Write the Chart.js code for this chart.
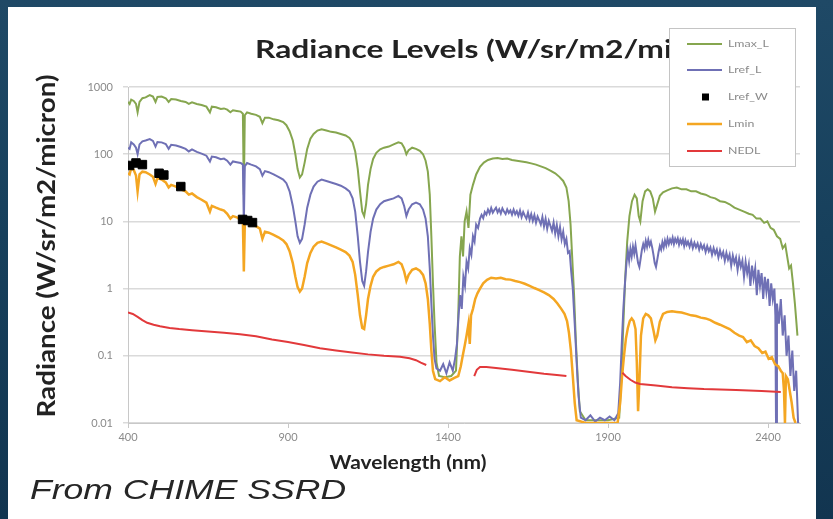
<!DOCTYPE html>
<html>
<head>
<meta charset="utf-8">
<script src="https://cdn.jsdelivr.net/npm/chart.js@4"></script>
<style>
html,body{margin:0;padding:0;width:833px;height:519px;overflow:hidden;}
body{background:linear-gradient(180deg,#1f4966 0%,#17405c 45%,#123550 100%);position:relative;}
#panel{position:absolute;left:8px;top:7px;width:808px;height:512px;background:#ffffff;}
#c{position:absolute;left:0;top:0;}
#caption{position:absolute;left:30px;top:476px;font:italic 28px "Liberation Sans",Arial,sans-serif;line-height:28px;color:#262626;transform-origin:0 0;transform:scaleX(1.27);white-space:nowrap;}
</style>
</head>
<body>
<div id="panel"></div>
<canvas id="c" width="833" height="519"></canvas>
<div id="caption">From CHIME SSRD</div>
<script>
// ---------- data (wavelength nm, radiance W/sr/m2/micron) ----------
const xTickValues = [400, 900, 1400, 1900, 2400];
const yTickValues = [0.01, 0.1, 1, 10, 100, 1000];
const yTickLabels = ['0.01', '0.1', '1', '10', '100', '1000'];

const lmaxL = [
[400,600],[405,560],[410,650],[418,620],[425,560],[430,420],[436,600],[445,680],[455,700],[468,760],[478,720],[486,600],[492,710],[505,720],[518,680],[527,600],[535,660],[550,650],[565,620],[580,600],[590,560],[600,590],[615,560],[630,540],[645,510],[656,420],[662,510],[675,500],[690,470],[700,480],[710,460],[720,420],[728,450],[740,440],[752,430],[759,400],[762,25],[765,380],[772,420],[785,400],[800,385],[812,360],[820,290],[828,350],[840,350],[855,330],[870,320],[885,300],[895,270],[905,220],[915,160],[923,100],[930,60],[937,45],[944,50],[952,75],[960,120],[970,170],[980,200],[992,225],[1005,235],[1020,225],[1035,215],[1050,210],[1065,200],[1080,190],[1092,175],[1102,150],[1110,110],[1118,60],[1125,28],[1132,14],[1138,12],[1144,18],[1150,35],[1158,60],[1166,85],[1176,105],[1188,118],[1200,125],[1215,130],[1230,140],[1245,150],[1255,145],[1263,125],[1270,100],[1277,115],[1288,125],[1300,120],[1312,112],[1322,100],[1330,80],[1337,55],[1343,25],[1348,6],[1353,1.2],[1358,0.3],[1364,0.08],[1372,0.05],[1390,0.048],[1410,0.05],[1425,0.06],[1432,0.4],[1437,3],[1442,6],[1447,3],[1452,10],[1458,14],[1464,8],[1470,25],[1478,35],[1488,50],[1500,65],[1512,75],[1525,82],[1540,86],[1555,88],[1570,85],[1585,86],[1600,82],[1615,80],[1630,78],[1645,76],[1660,73],[1675,70],[1690,66],[1705,62],[1720,57],[1735,52],[1748,46],[1760,40],[1770,32],[1777,20],[1783,9],[1788,3],[1794,0.8],[1800,0.15],[1806,0.04],[1812,0.015],[1830,0.011],[1900,0.011],[1935,0.012],[1942,0.05],[1948,0.3],[1954,1.5],[1960,5],[1967,12],[1975,20],[1983,25],[1990,22],[1996,12],[2001,10],[2008,20],[2016,28],[2024,30],[2032,28],[2040,22],[2047,14],[2054,18],[2062,24],[2072,27],[2085,29],[2100,31],[2115,32],[2130,30],[2145,30],[2160,28],[2175,28],[2190,26],[2205,25],[2220,23],[2235,22],[2250,20],[2265,19.5],[2280,18],[2295,16],[2310,15],[2325,14],[2340,13],[2352,12.5],[2364,11],[2376,11],[2388,9.5],[2398,10],[2408,8],[2418,7.5],[2428,6],[2438,5.5],[2446,4],[2454,4.5],[2460,3],[2466,2],[2472,2.2],[2478,1.2],[2484,0.6],[2488,0.35],[2492,0.2]
];

const lrefL = [
[400,125],[405,120],[410,150],[418,140],[425,125],[430,100],[436,140],[445,155],[455,160],[468,168],[478,158],[486,130],[492,152],[505,150],[518,142],[527,120],[535,138],[550,135],[565,128],[580,120],[590,110],[600,118],[615,108],[630,102],[645,95],[656,78],[662,92],[675,90],[690,84],[700,86],[710,80],[720,70],[728,78],[740,76],[752,74],[759,70],[762,9],[765,66],[772,74],[785,70],[800,66],[812,60],[820,48],[828,56],[840,54],[855,50],[870,46],[885,42],[895,37],[905,28],[915,17],[923,10],[930,6],[937,4.8],[944,5.5],[952,9],[960,16],[970,25],[980,33],[992,39],[1005,42],[1020,40],[1035,38],[1050,36],[1065,34],[1080,31],[1092,28],[1102,22],[1110,14],[1118,6],[1125,2.5],[1132,1.3],[1138,1.1],[1144,1.8],[1150,3.5],[1158,7],[1166,11],[1176,15],[1188,18],[1200,20],[1215,21],[1230,22],[1245,24],[1255,22],[1263,17],[1270,12],[1277,15],[1288,18],[1300,19],[1312,18],[1322,15],[1330,11],[1337,6],[1343,2],[1348,0.6],[1353,0.2],[1358,0.09],[1364,0.065],[1375,0.06],[1385,0.075],[1395,0.055],[1405,0.08],[1415,0.06],[1422,0.09],[1428,0.15],[1433,0.4],[1438,0.8],[1443,0.5],[1448,1.5],[1453,1.1],[1458,2.5],[1463,2],[1468,4],[1473,3.2],[1478,6],[1483,5],[1488,9],[1494,8],
[1500,11],[1505,12.5],[1510,11.2],[1515,13.8],[1520,12.6],[1525,15],[1530,13.2],[1535,15.8],[1540,13.5],[1545,14.8],[1550,16],[1555,13.6],[1560,15.2],[1565,13.1],[1570,15.6],[1575,14],[1580,12.9],[1585,15.1],[1590,13.4],[1595,14.6],[1600,12.6],[1605,15],[1610,12.8],[1615,14.2],[1620,12.1],[1625,14.5],[1630,11.6],[1635,13.8],[1640,12.2],[1645,11],[1650,13.5],[1655,10.6],[1660,12.8],[1665,10.2],[1670,12.4],[1675,9.6],[1680,11.8],[1685,10.4],[1690,9],[1695,11.6],[1700,8.4],[1705,10.9],[1710,7.8],[1715,10.2],[1720,8.6],[1725,7.2],[1730,9.6],[1735,6.6],[1740,8.8],[1745,6],[1750,8.2],[1755,5.4],[1760,7],[1765,4.6],[1770,5.5],[1775,3.4],[1780,3.6],[1785,1.8],[1790,1],[1796,0.3],[1802,0.08],[1808,0.025],[1815,0.012],[1830,0.011],[1845,0.013],[1860,0.0105],[1875,0.012],[1890,0.011],[1905,0.0125],[1920,0.011],[1932,0.014],[1938,0.04],[1943,0.15],[1948,0.5],[1953,1.2],
[1958,2.5],[1962,3.6],[1966,2.6],[1970,3.9],[1974,3],[1978,4.2],[1982,3.3],[1986,4.4],[1990,3.2],[1994,2.4],[1998,2.1],[2002,2.8],[2006,3.8],[2010,4.6],[2014,3.9],[2018,5.1],[2022,4.2],[2026,5.3],[2030,4.4],[2034,5],[2038,4.1],[2042,3.2],[2046,2.4],[2050,2.1],[2054,2.7],[2058,3.5],[2062,4.3],[2066,3.8],[2070,4.9],[2074,4.1],[2078,5.2],[2082,4.4],[2086,5.5],[2090,4.6],[2094,5.4],[2098,4.8],[2102,5.7],[2106,4.6],[2110,5.5],[2114,4.9],[2118,5.6],[2122,4.5],[2126,5.3],[2130,4.7],[2134,5.4],[2138,4.3],[2142,5.2],[2146,4.5],[2150,5],[2155,4.2],[2160,5.1],[2165,4],[2170,4.8],[2175,4.1],[2180,4.7],[2185,3.8],[2190,4.6],[2195,3.9],[2200,4.4],[2205,3.5],[2210,4.3],[2215,3.6],[2220,4.1],[2225,3.2],[2230,4],[2235,3.3],[2240,3.8],[2245,2.9],[2250,3.7],[2255,3],[2260,3.5],[2265,2.6],[2270,3.4],[2275,2.7],[2280,3.2],[2285,2.2],[2290,3.1],[2295,2.4],[2300,2.9],[2305,1.9],[2310,2.8],[2315,2.1],[2320,2.6],[2325,1.5],[2330,2.5],[2335,1.7],[2340,2.3],[2345,1.1],[2350,2.2],[2355,1.4],[2360,2],[2365,0.8],[2370,1.9],[2375,1.1],[2380,1.7],[2385,0.7],[2390,1.5],[2395,0.9],[2400,1.4],[2405,0.55],[2410,1.2],[2415,0.7],[2420,1],[2423,0.4],[2425,0.01],[2428,0.6],[2434,0.3],[2440,0.7],[2446,0.2],[2452,0.4],[2458,0.1],[2464,0.2],[2470,0.05],[2476,0.12],[2482,0.03],[2488,0.06],[2494,0.01]
];

const lrefW = [
[405,68],[425,74],[445,70],[497,52],[512,49],[565,33],[758,10.7],[774,10.3],[789,9.6]
];

const lmin = [
[400,52],[405,50],[410,62],[418,58],[425,48],[430,28],[436,50],[445,55],[455,54],[468,50],[478,46],[486,36],[492,44],[505,42],[518,38],[527,32],[535,35],[550,33],[565,30],[580,28],[590,25],[600,26],[615,23],[630,21],[645,19],[656,14],[662,17],[675,16],[690,15],[700,14.5],[710,13],[720,11],[728,12],[740,11.5],[752,10.5],[759,10],[762,1.8],[765,9],[772,9.5],[785,9],[800,8.5],[812,7.8],[820,5.5],[828,7],[840,6.8],[855,6.3],[870,5.8],[885,5.2],[895,4.6],[905,3.6],[915,2.4],[923,1.5],[930,1.05],[937,0.9],[944,1],[952,1.5],[960,2.4],[970,3.4],[980,4.2],[992,4.8],[1005,5],[1020,4.7],[1035,4.4],[1050,4.1],[1065,3.8],[1080,3.5],[1092,3.1],[1102,2.5],[1110,1.6],[1118,0.8],[1125,0.4],[1132,0.26],[1138,0.25],[1144,0.4],[1150,0.7],[1158,1.1],[1166,1.5],[1176,1.8],[1188,2],[1200,2.1],[1215,2.2],[1230,2.3],[1245,2.5],[1255,2.3],[1263,1.8],[1270,1.3],[1277,1.6],[1288,1.9],[1300,2],[1312,1.85],[1322,1.6],[1330,1.2],[1337,0.7],[1343,0.3],[1348,0.12],[1353,0.06],[1360,0.045],[1375,0.042],[1390,0.048],[1405,0.043],[1420,0.047],[1432,0.05],[1440,0.07],[1446,0.1],[1452,0.14],[1458,0.2],[1464,0.3],[1468,0.15],[1472,0.4],[1478,0.5],[1485,0.7],[1492,0.85],[1500,1],[1510,1.2],[1522,1.35],[1535,1.45],[1550,1.42],[1565,1.45],[1580,1.38],[1595,1.36],[1610,1.3],[1625,1.25],[1640,1.18],[1655,1.1],[1670,1.02],[1685,0.95],[1700,0.88],[1715,0.8],[1730,0.7],[1742,0.6],[1754,0.5],[1764,0.42],[1772,0.33],[1778,0.22],[1784,0.12],[1790,0.05],[1796,0.02],[1802,0.011],[1830,0.01],[1930,0.01],[1938,0.02],[1944,0.05],[1950,0.1],[1956,0.18],[1962,0.26],[1968,0.33],[1974,0.36],[1980,0.33],[1986,0.25],[1990,0.08],[1994,0.015],[1998,0.04],[2003,0.2],[2010,0.36],[2018,0.42],[2026,0.4],[2034,0.36],[2042,0.24],[2048,0.17],[2054,0.2],[2062,0.32],[2072,0.42],[2085,0.45],[2100,0.46],[2115,0.45],[2130,0.44],[2145,0.42],[2160,0.4],[2175,0.39],[2190,0.37],[2205,0.36],[2220,0.34],[2235,0.31],[2250,0.29],[2265,0.27],[2280,0.25],[2295,0.22],[2310,0.2],[2322,0.19],[2334,0.16],[2346,0.17],[2358,0.14],[2370,0.13],[2382,0.11],[2392,0.115],[2402,0.09],[2412,0.095],[2422,0.075],[2432,0.07],[2440,0.06],[2446,0.055],[2450,0.03],[2453,0.01],[2456,0.05],[2462,0.045],[2468,0.03],[2474,0.02],[2480,0.012],[2486,0.01]
];

const nedl = [
[400,0.44],[415,0.42],[430,0.38],[445,0.34],[460,0.31],[480,0.29],[500,0.275],[530,0.26],[560,0.25],[600,0.24],[650,0.23],[700,0.22],[750,0.21],[800,0.195],[850,0.175],[900,0.16],[950,0.145],[1000,0.13],[1050,0.12],[1100,0.112],[1150,0.105],[1200,0.1],[1250,0.097],[1280,0.092],[1300,0.086],[1315,0.079],[1332,0.073],[1333,null],
[1482,0.05],[1490,0.062],[1500,0.068],[1520,0.068],[1550,0.066],[1600,0.062],[1650,0.058],[1700,0.054],[1740,0.052],[1770,0.05],[1771,null],
[1945,0.056],[1955,0.05],[1970,0.044],[1985,0.04],[2000,0.038],[2050,0.036],[2100,0.034],[2150,0.033],[2200,0.032],[2300,0.031],[2380,0.03],[2440,0.029]
];

const titleText = 'Radiance Levels (W/sr/m2/micron)';
const xTitle = 'Wavelength (nm)';
const yTitle = 'Radiance (W/sr/m2/micron)';

// ---------- chart ----------
const toXY = arr => arr.map(p => ({x: p[0], y: p[1]}));
const GREEN = '#86a64f', BLUE = '#6f70b5', ORANGE = '#f4a622', RED = '#e2393b';

const decor = {
  id: 'decor',
  afterDraw(chart) {
    const c = chart.ctx;
    // chart title (partly hidden by legend box, as in the reference)
    c.save();
    c.font = 'bold 24px Lato, "Open Sans", sans-serif';
    c.fillStyle = '#222222';
    c.textBaseline = 'alphabetic';
    const visW = c.measureText('Radiance Levels (W/sr/m2/mi').width;
    c.translate(255, 58);
    c.scale(417 / visW, 1);
    c.fillText(titleText, 0, 0);
    c.restore();
    // y axis title
    c.save();
    c.font = 'bold 21px Lato, "Open Sans", sans-serif';
    c.fillStyle = '#222222';
    c.textAlign = 'center';
    c.textBaseline = 'middle';
    const wy = c.measureText(yTitle).width;
    c.translate(47, 246);
    c.rotate(-Math.PI / 2);
    c.scale(343 / wy, 1.2);
    c.fillText(yTitle, 0, 0);
    c.restore();
    // x axis title
    c.save();
    c.font = 'bold 18px Lato, "Open Sans", sans-serif';
    c.fillStyle = '#222222';
    c.textAlign = 'center';
    c.textBaseline = 'middle';
    const wx = c.measureText(xTitle).width;
    c.translate(408, 463);
    c.scale(157 / wx, 1);
    c.fillText(xTitle, 0, 0);
    c.restore();
    // legend box
    const lx = 669, ly = 28, lw = 126, lh = 138;
    c.save();
    c.fillStyle = '#ffffff';
    c.fillRect(lx, ly, lw, lh);
    c.strokeStyle = '#c4c4c4';
    c.lineWidth = 1;
    c.strokeRect(lx + 0.5, ly + 0.5, lw, lh);
    const rows = [44, 70, 97, 124, 151];
    chart.data.datasets.forEach((ds, i) => {
      const y = rows[i];
      if (ds.showLine === false) {
        c.fillStyle = '#000000';
        c.fillRect(702, y - 3.5, 7, 7);
      } else {
        c.strokeStyle = ds.borderColor;
        c.lineWidth = ds.borderWidth;
        c.beginPath();
        c.moveTo(687, y);
        c.lineTo(722, y);
        c.stroke();
      }
      c.save();
      c.font = '9.5px Lato, sans-serif';
      c.fillStyle = '#8a8a8a';
      c.textBaseline = 'middle';
      c.translate(728, y);
      c.scale(1.3, 1);
      c.fillText(ds.label, 0, 0);
      c.restore();
    });
    c.restore();
  }
};

new Chart(document.getElementById('c'), {
  type: 'line',
  data: {
    datasets: [
      {label: 'Lmax_L', data: toXY(lmaxL), borderColor: GREEN, backgroundColor: GREEN, borderWidth: 2, pointRadius: 0, order: 4},
      {label: 'Lref_L', data: toXY(lrefL), borderColor: BLUE, backgroundColor: BLUE, borderWidth: 2, pointRadius: 0, order: 3},
      {label: 'Lref_W', data: toXY(lrefW), showLine: false, borderColor: '#000', backgroundColor: '#000',
       pointStyle: 'rect', pointRadius: 6, pointBorderWidth: 1, pointBackgroundColor: '#000', pointBorderColor: '#000', order: 0},
      {label: 'Lmin', data: toXY(lmin), borderColor: ORANGE, backgroundColor: ORANGE, borderWidth: 2.5, pointRadius: 0, order: 2},
      {label: 'NEDL', data: toXY(nedl), borderColor: RED, backgroundColor: RED, borderWidth: 2, pointRadius: 0, spanGaps: false, order: 1}
    ]
  },
  options: {
    responsive: false,
    animation: false,
    layout: {padding: {left: 0, right: 33, top: 87, bottom: 0}},
    elements: {line: {tension: 0}},
    plugins: {
      legend: {display: false},
      tooltip: {enabled: false},
      title: {display: false, text: titleText}
    },
    scales: {
      x: {
        type: 'linear', min: 400, max: 2500,
        afterBuildTicks: s => { s.ticks = xTickValues.map(v => ({value: v})); },
        afterFit: s => { s.height = 96; },
        ticks: {callback: v => String(v), font: {family: 'Lato', size: 11}, color: '#8a8a8a', padding: 3, maxRotation: 0, autoSkip: false},
        grid: {drawOnChartArea: false, tickLength: 5, color: '#c8c8c8'},
        border: {color: '#c8c8c8', width: 1},
        title: {display: false, text: xTitle}
      },
      y: {
        type: 'logarithmic', min: 0.01, max: 1000,
        afterBuildTicks: s => { s.ticks = yTickValues.map(v => ({value: v})); },
        afterFit: s => { s.width = 128; },
        ticks: {callback: (v, i) => yTickLabels[i], font: {family: 'Lato', size: 11}, color: '#8a8a8a', padding: 10, autoSkip: false},
        grid: {color: '#dadada', lineWidth: 1.5, tickLength: 5},
        border: {color: '#c8c8c8', width: 1},
        title: {display: false, text: yTitle}
      }
    }
  },
  plugins: [decor]
});
</script>
</body>
</html>
